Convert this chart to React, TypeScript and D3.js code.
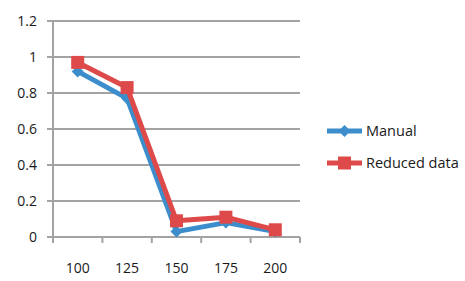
import React from "react";
import * as d3 from "d3";

const categories = ["100", "125", "150", "175", "200"];
const manual = [0.92, 0.77, 0.03, 0.08, 0.03];
const reduced = [0.97, 0.83, 0.09, 0.11, 0.04];
const yTicks = [0, 0.2, 0.4, 0.6, 0.8, 1, 1.2];
const seriesNames = ["Manual", "Reduced data"];

const W = 465, H = 281;
const left = 53, right = 300, top = 21, bottom = 237;
const blue = "#3C8DCB";
const red = "#DE4A4A";
const grid = "#A3A3A3";
const font = "'Open Sans', 'Liberation Sans', sans-serif";

export default function App() {
  const x = d3.scaleBand<string>().domain(categories).range([left, right]);
  const y = d3.scaleLinear().domain([0, 1.2]).range([bottom, top]);
  const cx = (c: string) => (x(c) as number) + x.bandwidth() / 2;
  const line = d3.line<number>().x((_, i) => cx(categories[i])).y((v) => y(v));
  const diamond = (px: number, py: number, r: number) =>
    `M${px},${py - r}L${px + r},${py}L${px},${py + r}L${px - r},${py}Z`;

  return (
    <svg width={W} height={H} style={{ position: "absolute", left: 0, top: 0, background: "#fff" }}>
      {yTicks.map((t) => (
        <g key={t}>
          <line x1={left - 6} x2={right} y1={y(t)} y2={y(t)} stroke={grid} strokeWidth={2} />
          <text x={37} y={y(t)} dy="0.35em" textAnchor="end" fontFamily={font} fontSize={14} fill="#1a1a1a">
            {t}
          </text>
        </g>
      ))}
      <line x1={left} x2={left} y1={top} y2={bottom + 6} stroke={grid} strokeWidth={2} />
      {categories.map((c, i) => (
        <g key={c}>
          <line x1={(x(c) as number) + x.bandwidth()} x2={(x(c) as number) + x.bandwidth()} y1={bottom} y2={bottom + 6} stroke={grid} strokeWidth={2} />
          <text x={cx(c)} y={268} dy="0.35em" textAnchor="middle" fontFamily={font} fontSize={14} fill="#1a1a1a">
            {c}
          </text>
        </g>
      ))}
      <path d={line(manual) as string} fill="none" stroke={blue} strokeWidth={5} strokeLinejoin="round" />
      {manual.map((v, i) => (
        <path key={i} d={diamond(cx(categories[i]), y(v), 6)} fill={blue} />
      ))}
      <path d={line(reduced) as string} fill="none" stroke={red} strokeWidth={5} strokeLinejoin="round" />
      {reduced.map((v, i) => (
        <rect key={i} x={cx(categories[i]) - 6.5} y={y(v) - 6.5} width={13} height={13} fill={red} />
      ))}
      <g>
        <line x1={327} x2={362} y1={131} y2={131} stroke={blue} strokeWidth={5} />
        <path d={diamond(344.5, 131, 6)} fill={blue} />
        <text x={366} y={131} dy="0.35em" fontFamily={font} fontSize={14.5} fill="#1a1a1a">{seriesNames[0]}</text>
        <line x1={327} x2={362} y1={163} y2={163} stroke={red} strokeWidth={5} />
        <rect x={338} y={156.5} width={13} height={13} fill={red} />
        <text x={366} y={163} dy="0.35em" fontFamily={font} fontSize={14.5} fill="#1a1a1a">{seriesNames[1]}</text>
      </g>
    </svg>
  );
}
